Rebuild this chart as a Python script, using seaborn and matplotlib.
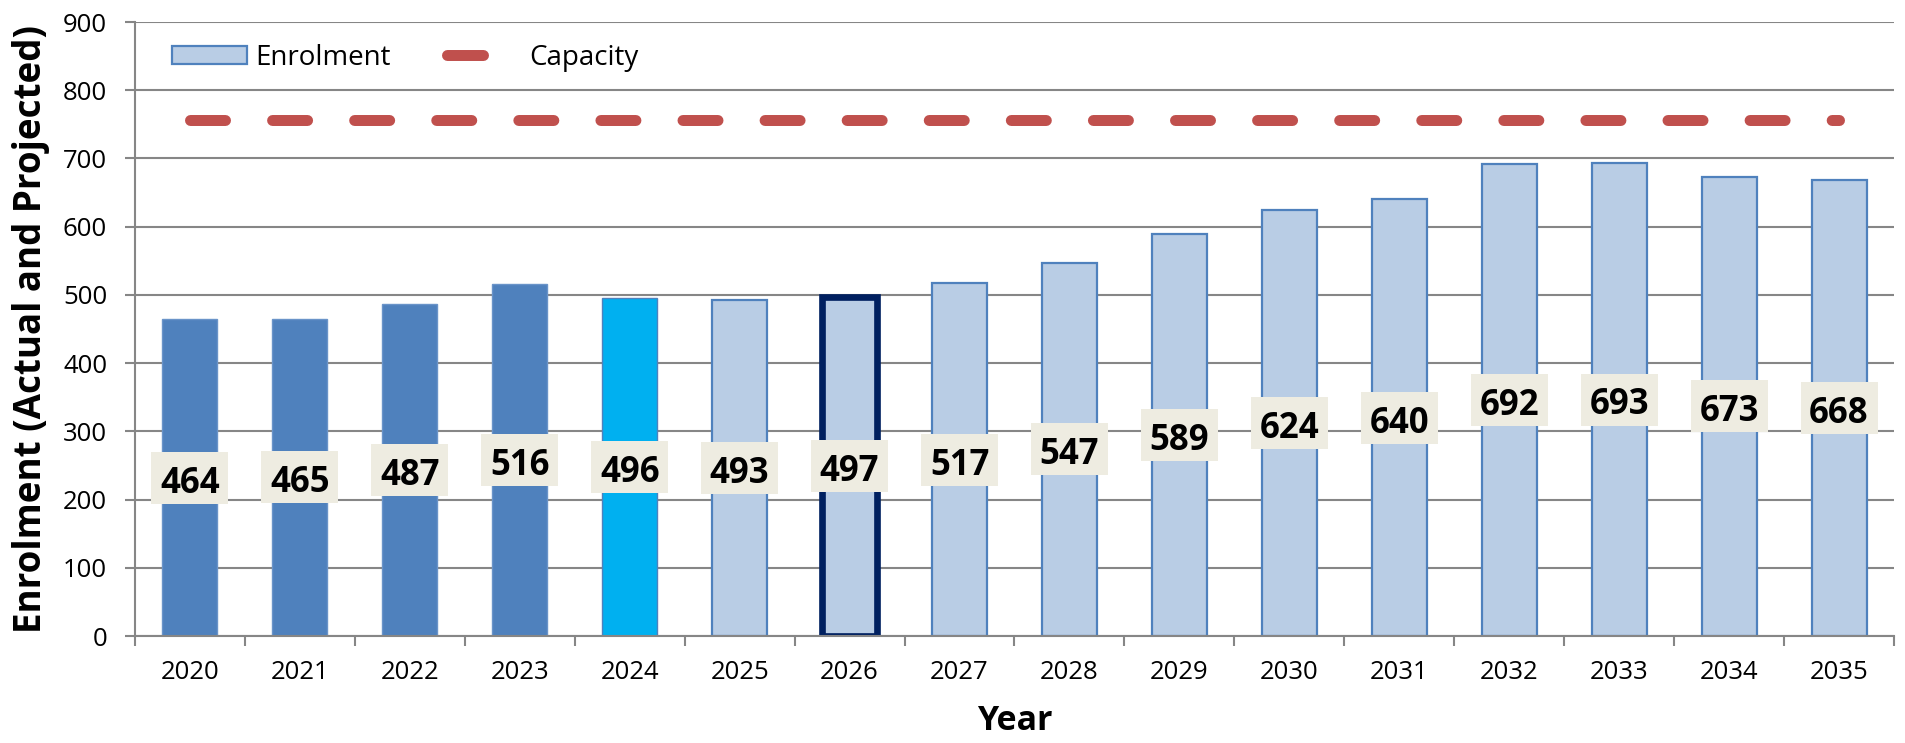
import numpy as np
import pandas as pd
import matplotlib
matplotlib.use("Agg")
import matplotlib.pyplot as plt
import seaborn as sns
from matplotlib.patches import Patch, Rectangle
from matplotlib.lines import Line2D
from matplotlib.ticker import FixedLocator

years = ["2020", "2021", "2022", "2023", "2024", "2025", "2026", "2027",
         "2028", "2029", "2030", "2031", "2032", "2033", "2034", "2035"]
enrolment = [464, 465, 487, 516, 496, 493, 497, 517, 547, 589, 624, 640, 692, 693, 673, 668]
capacity = [757] * 16
bar_kind = ["actual", "actual", "actual", "actual", "current", "projected", "highlight", "projected",
            "projected", "projected", "projected", "projected", "projected", "projected", "projected", "projected"]

face_map = {"actual": "#4F81BD", "current": "#00B0F0", "projected": "#B9CDE5", "highlight": "#B9CDE5"}
edge_map = {"actual": "#6A94C9", "current": "#4F81BD", "projected": "#4F81BD", "highlight": "#002060"}
lw_map = {"actual": 1.0, "current": 1.0, "projected": 1.6, "highlight": 4.8}

FONT = "Open Sans"
GRID = "#868686"
DPI = 100

sns.set_theme(style="white")
plt.rcParams["font.family"] = [FONT, "DejaVu Sans"]
plt.rcParams["text.color"] = "black"
plt.rcParams["axes.labelcolor"] = "black"
plt.rcParams["xtick.color"] = "black"
plt.rcParams["ytick.color"] = "black"

df = pd.DataFrame({"Year": years, "Enrolment": enrolment, "Kind": bar_kind})

W, H = 1906, 743
fig = plt.figure(figsize=(W / DPI, H / DPI), dpi=DPI)
ax_l, ax_r, ax_t, ax_b = 135, 1894, 22, 636
ax = fig.add_axes([ax_l / W, 1 - ax_b / H, (ax_r - ax_l) / W, (ax_b - ax_t) / H])

sns.barplot(data=df, x="Year", y="Enrolment", hue="Year",
            palette=[face_map[k] for k in bar_kind], legend=False,
            width=0.5, saturation=1, ax=ax, zorder=3)

for patch, k in zip(ax.patches, bar_kind):
    patch.set_edgecolor(edge_map[k])
    patch.set_linewidth(lw_map[k])
    patch.set_zorder(3)

# capacity line
cap_lw_pt = 7.9
lw_px = cap_lw_pt * DPI / 72
ppc = (ax_r - ax_l) / len(years)
period_px = (len(years) - 1) * ppc / 20.09
on_px = 35.0
sns.lineplot(x=np.arange(len(years)), y=capacity, ax=ax, color="#C0504D",
             linewidth=cap_lw_pt, zorder=4)
cap_line = ax.lines[-1]
cap_line.set_dashes((on_px / lw_px, (period_px - on_px) / lw_px))
cap_line.set_dash_capstyle("round")

# value labels in beige boxes, centred at half bar height
box_w = 77 / ppc
box_h = 52 / ((ax_b - ax_t) / 900)
for i, v in enumerate(enrolment):
    ax.add_patch(Rectangle((i - box_w / 2, v / 2 - box_h / 2), box_w, box_h,
                           facecolor="#EEECE1", edgecolor="none", zorder=5))
    ax.text(i, v / 2 - 2, str(v), ha="center", va="center_baseline", fontsize=25,
            fontweight="bold", color="black", zorder=6)

ax.set_xlim(-0.5, len(years) - 0.5)
ax.set_ylim(0, 900)
ax.set_yticks(np.arange(0, 901, 100))
ax.yaxis.grid(True, color=GRID, linewidth=1.5, zorder=0)
ax.set_axisbelow(True)

for s in ["top", "right"]:
    ax.spines[s].set_visible(False)
for s in ["left", "bottom"]:
    ax.spines[s].set_color(GRID)
    ax.spines[s].set_linewidth(1.5)
    ax.spines[s].set_zorder(7)

ax.tick_params(axis="x", which="major", length=0, labelsize=18.5, pad=17)
ax.xaxis.set_minor_locator(FixedLocator(np.arange(-0.5, len(years), 1.0)))
ax.tick_params(axis="x", which="minor", length=7, width=1.5, color=GRID, direction="out", bottom=True)
ax.tick_params(axis="y", which="major", length=7, width=1.5, color=GRID, direction="out",
               labelsize=18.5, left=True, pad=13)

ax.set_xlabel("Year", fontsize=24.5, fontweight="bold")
ax.xaxis.set_label_coords(0.5, -(704 - ax_b) / (ax_b - ax_t))
ax.set_ylabel("Enrolment (Actual and Projected)", fontsize=26.5, fontweight="bold")
ax.yaxis.set_label_coords(-(ax_l - 50) / (ax_r - ax_l), 0.5)

leg_fs = 20
em = leg_fs * DPI / 72
legend_lw = 7.9
leg_lw_px = legend_lw * DPI / 72
handles = [Patch(facecolor="#B9CDE5", edgecolor="#4F81BD", linewidth=1.6, label="Enrolment"),
           Line2D([0], [0], color="#C0504D", linewidth=legend_lw, label="Capacity")]
leg = ax.legend(handles=handles, loc="center left",
                bbox_to_anchor=((172 - ax_l) / (ax_r - ax_l), 1 - (58 - ax_t) / (ax_b - ax_t)),
                ncol=2, frameon=False, fontsize=leg_fs, handlelength=75 / em,
                handleheight=18 / em, handletextpad=8 / em, columnspacing=56 / em,
                borderpad=0, borderaxespad=0)
leg.set_zorder(8)
lh = leg.legend_handles[1]
lh.set_dashes((36 / leg_lw_px, 20))
lh.set_dash_capstyle("round")

fig.savefig("out.png", dpi=DPI)
